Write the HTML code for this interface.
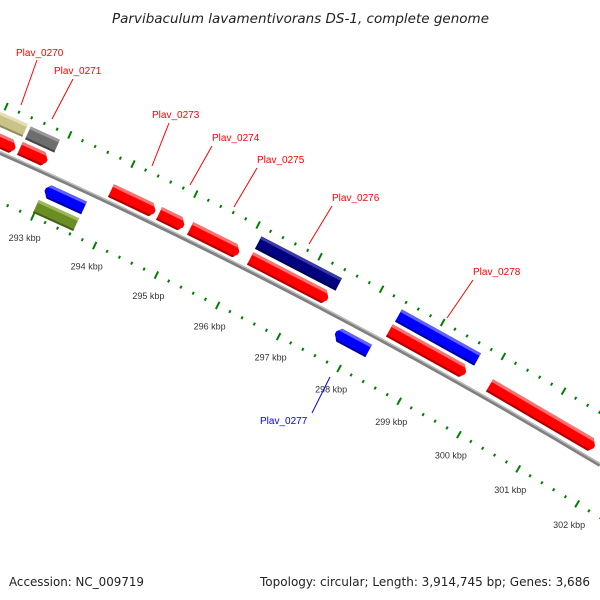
<!DOCTYPE html>
<html><head><meta charset="utf-8"><style>
html,body{margin:0;padding:0;background:#fff;}
svg{display:block;}
</style></head><body>
<svg id="s" width="600" height="600" xmlns="http://www.w3.org/2000/svg" font-family="Liberation Sans, sans-serif">
<rect width="600" height="600" fill="#fff"/>
<text x="112" y="23" font-family="DejaVu Sans, sans-serif" font-size="13" font-style="italic" fill="#222" textLength="377" lengthAdjust="spacingAndGlyphs">Parvibaculum lavamentivorans DS-1, complete genome</text>
<text x="9" y="586" font-family="DejaVu Sans, sans-serif" font-size="12" fill="#222" textLength="135" lengthAdjust="spacingAndGlyphs">Accession: NC_009719</text>
<text x="260" y="586" font-family="DejaVu Sans, sans-serif" font-size="12" fill="#222" textLength="330" lengthAdjust="spacingAndGlyphs">Topology: circular; Length: 3,914,745 bp; Genes: 3,686</text>
<g id="ticks"></g>
<path d="M0,153 Q300,285 600,465" fill="none" stroke="#808080" stroke-width="4"/>
<path d="M0,151.6 Q300,283.6 600,463.6" fill="none" stroke="#c0c0c0" stroke-width="1.2"/>
<g id="feat"></g>
<g font-size="10" fill="#f00" stroke-width="1">
<text x="16" y="56">Plav_0270</text><line x1="37" y1="60" x2="21" y2="105" stroke="#f00"/>
<text x="54" y="74">Plav_0271</text><line x1="73" y1="79" x2="52" y2="119" stroke="#f00"/>
<text x="152" y="118">Plav_0273</text><line x1="169" y1="123" x2="152" y2="166" stroke="#f00"/>
<text x="212" y="141">Plav_0274</text><line x1="212" y1="146" x2="190" y2="185" stroke="#f00"/>
<text x="257" y="163">Plav_0275</text><line x1="257" y1="168" x2="234" y2="207" stroke="#f00"/>
<text x="332" y="201">Plav_0276</text><line x1="332" y1="206" x2="309" y2="244" stroke="#f00"/>
<text x="473" y="275">Plav_0278</text><line x1="473" y1="280" x2="447" y2="318" stroke="#f00"/>
<text x="260" y="424" fill="#00f">Plav_0277</text><line x1="312" y1="413" x2="330" y2="377" stroke="#00f"/>
</g>
</svg>
<script>
var NS="http://www.w3.org/2000/svg";
function B(t){var x=600*t;var y=(1-t)*(1-t)*153+2*(1-t)*t*285+t*t*465;var dy=264*(1-t)+360*t;var a=Math.atan2(dy,600);return {x:x,y:y,a:a};}
function el(n,at,p){var e=document.createElementNS(NS,n);for(var k in at)e.setAttribute(k,at[k]);p.appendChild(e);return e;}
var tg=document.getElementById('ticks');
var N=3000,t0=-0.15,t1=1.2,S=[0],T=[t0];var prev=B(t0);
for(var i=1;i<=N;i++){var t=t0+(t1-t0)*i/N;var p=B(t);S.push(S[i-1]+Math.hypot(p.x-prev.x,p.y-prev.y));T.push(t);prev=p;}
function tAt(s){for(var i=1;i<S.length;i++){if(S[i]>=s){var f=(s-S[i-1])/(S[i]-S[i-1]);return T[i-1]+f*(T[i]-T[i-1]);}}return null;}
var tm=0,best=1e9;for(var i=0;i<=N;i++){var p=B(T[i]);var lx=p.x-45*Math.sin(p.a);if(Math.abs(lx-339)<best){best=Math.abs(lx-339);tm=i;}}
var sm=S[tm],step=13.8;
for(var k=-60;k<=60;k++){var s=sm+k*step;if(s<0||s>S[S.length-1])continue;var t=tAt(s);var p=B(t);var nx=-Math.sin(p.a),ny=Math.cos(p.a);var major=(k%5==0);var L=major?8:3;
 [-45,45].forEach(function(o){var cx=p.x+nx*o,cy=p.y+ny*o;el('line',{x1:cx-nx*L/2,y1:cy-ny*L/2,x2:cx+nx*L/2,y2:cy+ny*L/2,stroke:'#008000','stroke-width':2},tg);
  if(major&&o>0){var tx=el('text',{x:cx-8,y:cy+24,'text-anchor':'middle','font-size':'9',fill:'#333'},tg);tx.textContent=(298+k/5)+' kbp';}});}
var F=[
[-5,112,28,137,'#c9c38a','#e4dfb5','#8f8a5a',0],
[25,127,60,152,'#6e6e6e','#9a9a9a','#444',0],
[255,237,342,290,'#000080','#3a3aa8','#000050',0],
[395,310,481,365,'#0000ff','#6060ff','#0000a0',0],
[-10,133,18,153,'#ff0000','#ff7070','#b00000',1],
[17,143,50,166,'#ff0000','#ff7070','#b00000',1],
[108,185,158,217,'#ff0000','#ff7070','#b00000',1],
[156,208,187,231,'#ff0000','#ff7070','#b00000',1],
[187,223,242,258,'#ff0000','#ff7070','#b00000',1],
[247,253,331,304,'#ff0000','#ff7070','#b00000',1],
[386,325,469,378,'#ff0000','#ff7070','#b00000',1],
[486,381,598,451,'#ff0000','#ff7070','#b00000',1],
[42,185,87,213,'#0000ff','#6060ff','#0000a0',-1],
[33,200,79,231,'#6b8e23','#9bb85a','#44601a',0],
[332,327,372,357,'#0000ff','#6060ff','#0000a0',-1]];
var fg=document.getElementById('feat');
F.forEach(function(f){var cx=(f[0]+f[2])/2,cy=(f[1]+f[3])/2,W=f[2]-f[0];var a=B(cx/600).a;var h=14;var L=(W-h*Math.sin(a))/Math.cos(a);var g=el('g',{transform:'translate('+cx+','+cy+') rotate('+(a*180/Math.PI)+')'},fg);
 var l=-L/2,r=L/2,d=f[7],pts;
 if(d==1)pts=[[l,-7],[r-5,-7],[r,-1],[r,2],[r-4,7],[l,7]];
 else if(d==-1)pts=[[l+4,-7],[r,-7],[r,7],[l+5,7],[l,1],[l,-2]];
 else pts=[[l,-7],[r,-7],[r,7],[l,7]];
 function P(a){return a.map(function(q){return q[0].toFixed(1)+','+q[1].toFixed(1)}).join(' ');}
 el('polygon',{points:P(pts),fill:f[4]},g);
 el('polygon',{points:P([[d==-1?l+4:l,-7],[d==1?r-5:r,-7],[d==1?r-3:r,-4],[d==-1?l+2:l,-4]]),fill:f[5]},g);
 el('polygon',{points:P([[d==-1?l+3:l,5],[d==1?r-2:r,5],[d==1?r-4:r,7],[d==-1?l+5:l,7]]),fill:f[6]},g);
});
</script>
</body></html>
